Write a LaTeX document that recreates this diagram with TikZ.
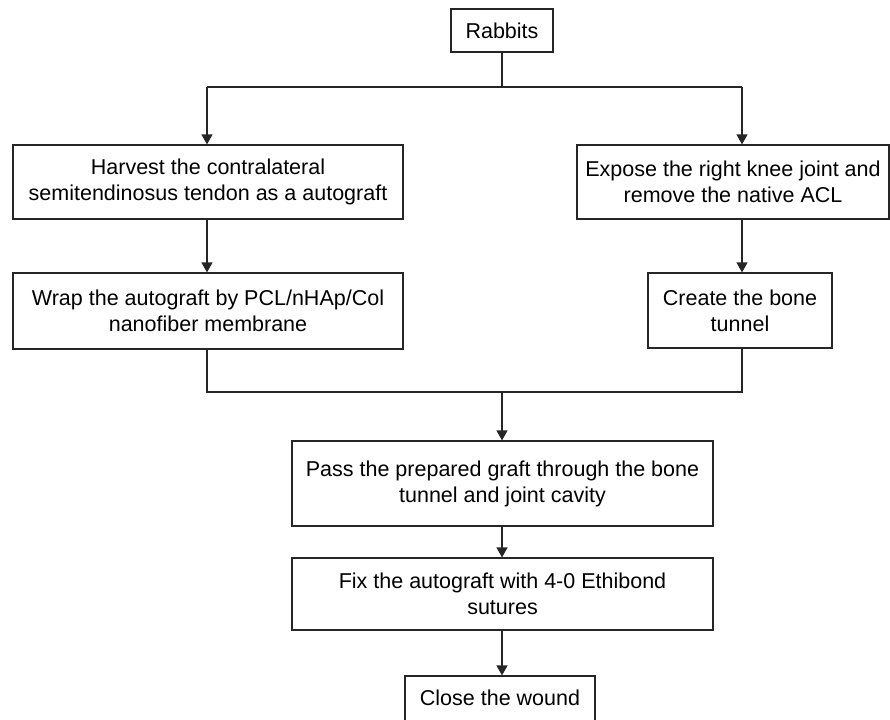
\documentclass[tikz,border=0pt]{standalone}
\usepackage{fontspec}
\setmainfont{Liberation Sans}
\usetikzlibrary{arrows.meta}
\begin{document}
\begin{tikzpicture}[x=1pt,y=-1pt,
  box/.style={draw=black!85, line width=1.2pt, inner sep=0pt, align=center,
    font=\fontsize{21.5}{26}\selectfont, text=black},
  conn/.style={draw=black!85, line width=1.3pt},
  arr/.style={conn, -{Triangle[width=11pt,length=10pt]}}]
\useasboundingbox (0,0) rectangle (890,719);
\clip (0,0) rectangle (890,719);
\fill[white] (0,0) rectangle (890,719);
\node[box, minimum width=102pt, minimum height=43pt] (rab) at (502,30.5) {Rabbits};
\node[box, minimum width=390pt, minimum height=74pt] (harv) at (208,182) {Harvest the contralateral\\semitendinosus tendon as a autograft};
\node[box, minimum width=312pt, minimum height=74pt] (expo) at (733,182) {Expose the right knee joint and\\remove the native ACL};
\node[box, minimum width=390pt, minimum height=76pt] (wrap) at (208,311) {Wrap the autograft by PCL/nHAp/Col\\nanofiber membrane};
\node[box, minimum width=184pt, minimum height=75pt] (bone) at (740,310.5) {Create the bone\\tunnel};
\node[box, minimum width=421pt, minimum height=85pt] (pass) at (502.5,483.5) {Pass the prepared graft through the bone\\tunnel and joint cavity};
\node[box, minimum width=421pt, minimum height=72pt] (fix) at (502.5,594) {Fix the autograft with 4-0 Ethibond\\sutures};
\node[box, minimum width=190pt, minimum height=60pt] (close) at (500,706) {};
\node[font=\fontsize{21.5}{26}\selectfont, anchor=base] (closet) at (500,705) {Close the wound};
\coordinate (split) at (502,87);
\coordinate (sl) at (207,87);
\coordinate (sr) at (742,87);
\coordinate (jl) at (207,392);
\coordinate (jr) at (742,392);
\coordinate (jm) at (502,392);
\draw[conn] (rab.south) -- (split);
\draw[conn] (sl) -- (sr);
\draw[arr] (sl) -- (sl |- harv.north);
\draw[arr] (sr) -- (sr |- expo.north);
\draw[arr] (sl |- harv.south) -- (sl |- wrap.north);
\draw[arr] (sr |- expo.south) -- (sr |- bone.north);
\draw[conn] (sl |- wrap.south) -- (jl) -- (jr) -- (sr |- bone.south);
\draw[arr] (jm) -- (jm |- pass.north);
\draw[arr] (jm |- pass.south) -- (jm |- fix.north);
\draw[arr] (jm |- fix.south) -- (jm |- close.north);
\end{tikzpicture}
\end{document}
